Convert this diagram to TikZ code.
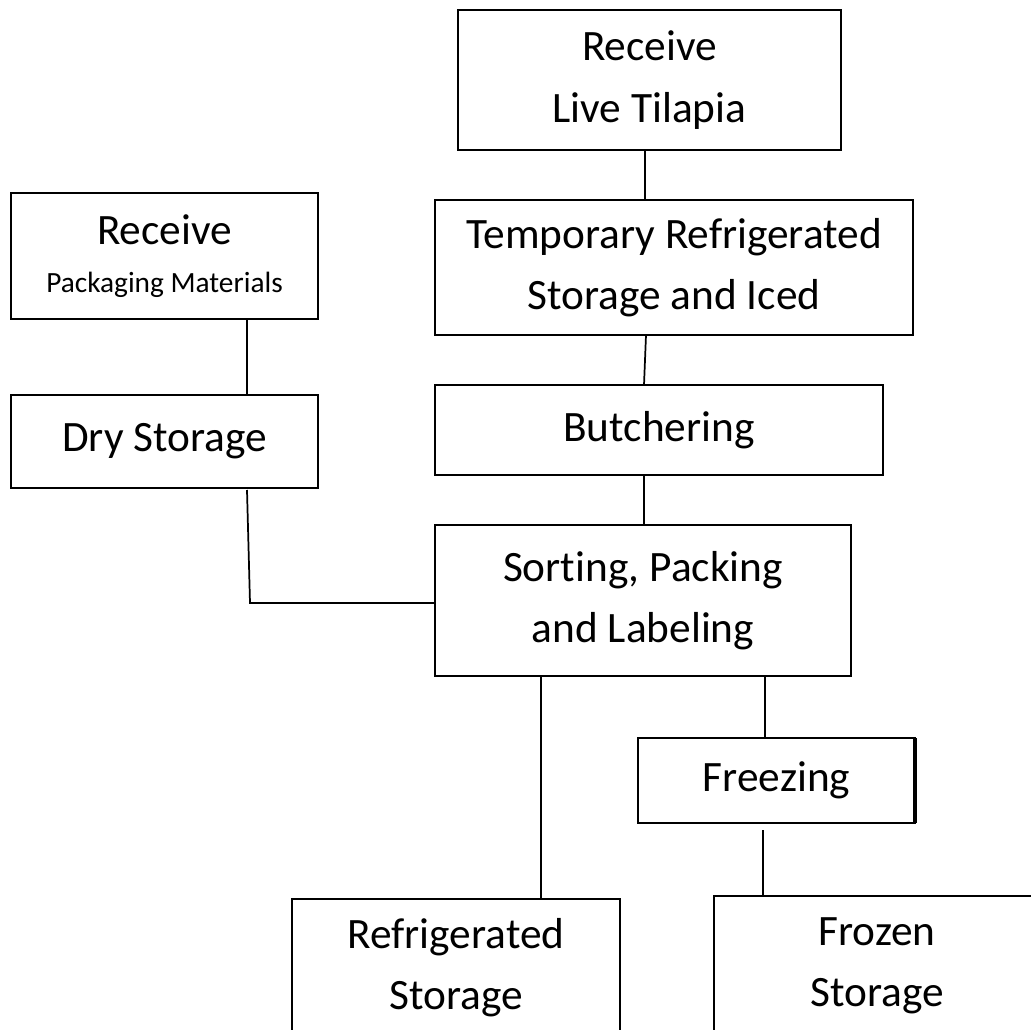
\documentclass[tikz,border=0pt]{standalone}
\usepackage{fontspec}
\setmainfont{Carlito}[Ligatures=NoCommon]
\begin{document}
\begin{tikzpicture}[x=0.75pt,y=0.75pt,yscale=-1,xscale=1,
	stepbox/.style={draw, line width=1.3pt, rectangle, inner sep=0pt, outer sep=0pt, align=center, font=\fontsize{32.5}{46}\selectfont},
	link/.style={line width=1.3pt}]
	\useasboundingbox (0,0) rectangle (1031,1030);
	\clip (0,0) rectangle (1031,1030);

	% fish line
	\node[stepbox, minimum width=383*0.75pt, minimum height=140*0.75pt] (tilapia) at (649.5,80) {Receive\\Live Tilapia};
	\node[stepbox, minimum width=478*0.75pt, minimum height=135*0.75pt] (temp) at (674,267.5) {Temporary Refrigerated\\Storage and Iced};
	\node[stepbox, minimum width=448*0.75pt, minimum height=90*0.75pt] (butcher) at (659,430) {Butchering};
	\node[stepbox, minimum width=416*0.75pt, minimum height=151*0.75pt] (sorting) at (643,600.5) {Sorting, Packing\\and Labeling};

	% packaging line
	\node[stepbox, minimum width=307*0.75pt, minimum height=126*0.75pt] (packaging) at (164.5,256) {Receive\\[-10pt]{\fontsize{22}{36}\selectfont Packaging Materials}};
	\node[stepbox, minimum width=307*0.75pt, minimum height=93*0.75pt] (dry) at (164.5,441.5) {Dry Storage};

	% storage
	\node[stepbox, minimum width=277*0.75pt, minimum height=85*0.75pt] (freezing) at (776.5,780.5) {Freezing};
	\node[stepbox, minimum width=328*0.75pt, minimum height=138*0.75pt] (refrig) at (456,968) {Refrigerated\\Storage};
	\node[stepbox, minimum width=326*0.75pt, minimum height=140*0.75pt] (frozen) at (877,966) {Frozen\\Storage};
	\draw[line width=2.4pt] (freezing.north east) -- (freezing.south east);

	\draw[link] (645,0 |- tilapia.south) -- (645,0 |- temp.north);
	\draw[link] (646,0 |- temp.south) -- (644,0 |- butcher.north);
	\draw[link] (644,0 |- butcher.south) -- (644,0 |- sorting.north);
	\draw[link] (247,0 |- packaging.south) -- (247,0 |- dry.north);
	\coordinate (bend) at (250,603);
	\draw[link] (247,0 |- dry.south) ++(0,2) -- (bend) -- (bend -| sorting.west);
	\draw[link] (541,0 |- sorting.south) -- (541,0 |- refrig.north);
	\draw[link] (765,0 |- sorting.south) -- (765,0 |- freezing.north);
	\draw[link] (763,0 |- freezing.south) ++(0,7) -- (763,0 |- frozen.north);
\end{tikzpicture}
\end{document}
